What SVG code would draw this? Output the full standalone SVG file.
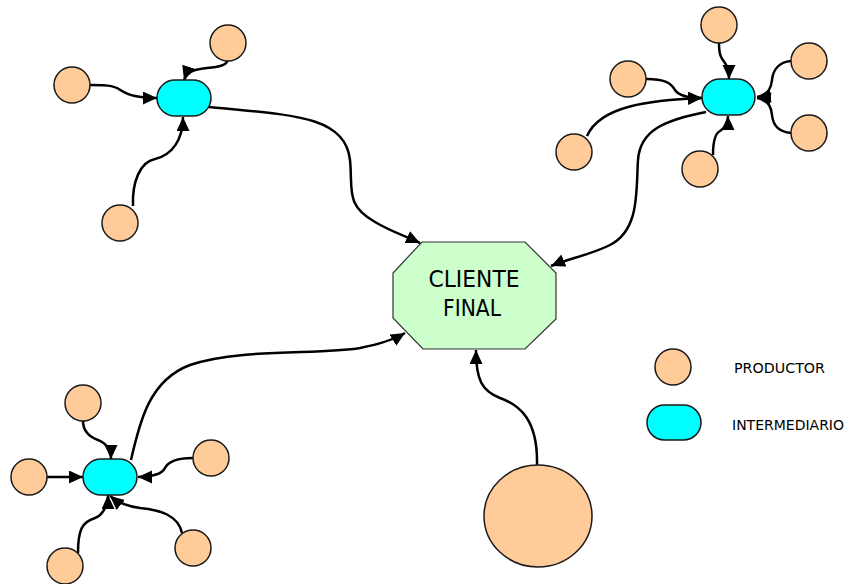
<svg xmlns="http://www.w3.org/2000/svg" width="851" height="584" viewBox="0 0 851 584">
  <defs>
    <marker id="arrow" markerUnits="userSpaceOnUse" markerWidth="15" markerHeight="14" refX="14" refY="6.5" orient="auto">
      <path d="M0,0 L14,6.5 L0,13 z" fill="#000"/>
    </marker>
    <style>
      .prod { fill: #ffcc99; stroke: #1a1a1a; stroke-width: 1.5; }
      .inter { fill: #00ffff; stroke: #1a1a1a; stroke-width: 1.5; }
      .final { fill: #ccffcc; stroke: #333; stroke-width: 1.2; }
      .link { fill: none; stroke: #000; stroke-width: 2.5; marker-end: url(#arrow); }
      .label { font-family: "DejaVu Sans", Verdana, sans-serif; fill: #000; }
    </style>
  </defs>
  <rect width="851" height="584" fill="#fff"/>

  <!-- connectors -->
  <g id="connectors">
    <!-- top-left cluster -->
    <path class="link" d="M90,85 C110,85 116,86 122,91 C130,96 142,98 157,98"/>
    <path class="link" d="M228,60 C226,67 214,67 200,69 C191,70 186,74 184,80"/>
    <path class="link" d="M133,206 C132,182 140,162 155,159 C172,155 183,140 183,117"/>
    <path class="link" d="M209,107 C290,115 345,115 350,160 C353,190 345,205 375,222 C390,231 405,236 420,243"/>
    <!-- top-right cluster -->
    <path class="link" d="M719,43 C719,55 721,58 725,63 C728,67 729,71 729,79"/>
    <path class="link" d="M791,61 C779,62 773,70 772,80 C771,90 766,96 757,97"/>
    <path class="link" d="M791,133 C779,132 773,125 772,115 C771,105 766,99 757,98"/>
    <path class="link" d="M646,79 C665,79 671,83 675,90 C679,96 690,98 702,98"/>
    <path class="link" d="M587,136 C600,106 650,100 702,98"/>
    <path class="link" d="M713,155 C713,141 716,133 720,131 C725,128 728,124 728,116"/>
    <path class="link" d="M706,112 C665,120 640,130 638,160 C636,190 640,230 610,245 C590,255 570,258 551,266"/>
    <!-- bottom-left cluster -->
    <path class="link" d="M83,421 C83,432 90,437 98,440 C106,443 111,450 111,459"/>
    <path class="link" d="M47,477 L83,477"/>
    <path class="link" d="M193,458 C176,458 168,462 165,468 C162,474 151,477 138,477"/>
    <path class="link" d="M78,553 C78,530 82,522 95,518 C103,515 108,505 108,495"/>
    <path class="link" d="M182,533 C178,515 160,510 140,508 C125,506 116,501 110,496"/>
    <path class="link" d="M131,460 C140,420 150,380 190,365 C240,348 320,355 360,348 C380,344 395,339 405,333"/>
    <!-- large producer -->
    <path class="link" d="M537,465 C538,420 520,405 500,398 C482,391 476,380 476,350"/>
  </g>

  <!-- final customer -->
  <g id="cliente-final">
    <polygon class="final" points="422,242 525,242 556,273 556,319 525,349 423,349 393,318 393,273"/>
    <text class="label" x="474" y="287" font-size="23" text-anchor="middle" textLength="91" lengthAdjust="spacingAndGlyphs">CLIENTE</text>
    <text class="label" x="472" y="316" font-size="23" text-anchor="middle" textLength="58" lengthAdjust="spacingAndGlyphs">FINAL</text>
  </g>

  <!-- top-left cluster -->
  <g id="tl-inter"><rect class="inter" x="157" y="80" width="54" height="36" rx="18"/></g>
  <g id="tl-p1"><circle class="prod" cx="72" cy="85" r="18"/></g>
  <g id="tl-p2"><circle class="prod" cx="228" cy="43" r="18"/></g>
  <g id="tl-p3"><circle class="prod" cx="120" cy="223" r="18"/></g>

  <!-- top-right cluster -->
  <g id="tr-inter"><rect class="inter" x="702" y="79" width="53" height="36" rx="18"/></g>
  <g id="tr-p1"><circle class="prod" cx="719" cy="25" r="18"/></g>
  <g id="tr-p2"><circle class="prod" cx="809" cy="61" r="18"/></g>
  <g id="tr-p3"><circle class="prod" cx="809" cy="133" r="18"/></g>
  <g id="tr-p4"><circle class="prod" cx="628" cy="79" r="18"/></g>
  <g id="tr-p5"><circle class="prod" cx="574" cy="152" r="18"/></g>
  <g id="tr-p6"><circle class="prod" cx="700" cy="169" r="18"/></g>

  <!-- bottom-left cluster -->
  <g id="bl-inter"><rect class="inter" x="83" y="459" width="54" height="36" rx="18"/></g>
  <g id="bl-p1"><circle class="prod" cx="83" cy="403" r="18"/></g>
  <g id="bl-p2"><circle class="prod" cx="29" cy="477" r="18"/></g>
  <g id="bl-p3"><circle class="prod" cx="211" cy="458" r="18"/></g>
  <g id="bl-p4"><circle class="prod" cx="193" cy="548" r="18"/></g>
  <g id="bl-p5"><circle class="prod" cx="65" cy="566" r="18"/></g>

  <!-- large producer -->
  <g id="big-producer"><ellipse class="prod" cx="538" cy="516" rx="54" ry="51"/></g>

  <!-- legend -->
  <g id="legend-productor">
    <circle class="prod" cx="673" cy="367" r="18"/>
    <text class="label" x="734" y="373" font-size="14.5" textLength="91" lengthAdjust="spacingAndGlyphs">PRODUCTOR</text>
  </g>
  <g id="legend-intermediario">
    <rect class="inter" x="647" y="405" width="54" height="35" rx="17.5"/>
    <text class="label" x="732" y="430" font-size="14.5" textLength="112" lengthAdjust="spacingAndGlyphs">INTERMEDIARIO</text>
  </g>
</svg>
